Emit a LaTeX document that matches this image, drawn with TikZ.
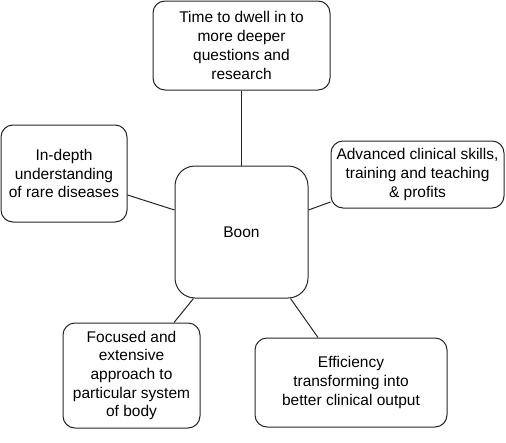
\documentclass[tikz,border=0pt]{standalone}
\usepackage{fontspec}
\setmainfont{Liberation Sans}
\begin{document}
\begin{tikzpicture}[x=1pt,y=-1pt,
  box/.style={draw=black!85, line width=1pt, rounded corners=12pt, align=center, inner sep=0pt,
    font=\fontsize{15.5}{18.7}\selectfont},
  link/.style={draw=black!85, line width=1pt}]
\useasboundingbox (0,0) rectangle (506,442);
\node[box, minimum width=177pt, minimum height=89pt] (T) at (241.5,45.5) {Time to dwell in to\\more deeper\\questions and\\research};
\node[box, minimum width=126pt, minimum height=97pt] (L) at (64,173.5) {In-depth\\understanding\\of rare diseases};
\node[box, minimum width=173pt, minimum height=67pt] (R) at (417.5,174.5) {Advanced clinical skills,\\training and teaching\\\& profits};
\node[box, rounded corners=20pt, minimum width=133pt, minimum height=132pt] (C) at (241.5,232) {Boon};
\node[box, minimum width=137pt, minimum height=105pt] (BL) at (131.5,375.5) {Focused and\\extensive\\approach to\\particular system\\of body};
\node[box, minimum width=192pt, minimum height=89pt] (BR) at (351,382.5) {Efficiency\\transforming into\\better clinical output};
\draw[link] (T.south) -- (C.north);
\draw[link] ([yshift=-21.5pt]L.east) -- ([yshift=22pt]C.west);
\draw[link] ([yshift=-27.5pt]R.west) -- ([yshift=22pt]C.east);
\draw[link] ([xshift=42.5pt]BL.north) -- ([xshift=-48pt]C.south);
\draw[link] ([xshift=-33pt]BR.north) -- ([xshift=49pt]C.south);
\end{tikzpicture}
\end{document}
